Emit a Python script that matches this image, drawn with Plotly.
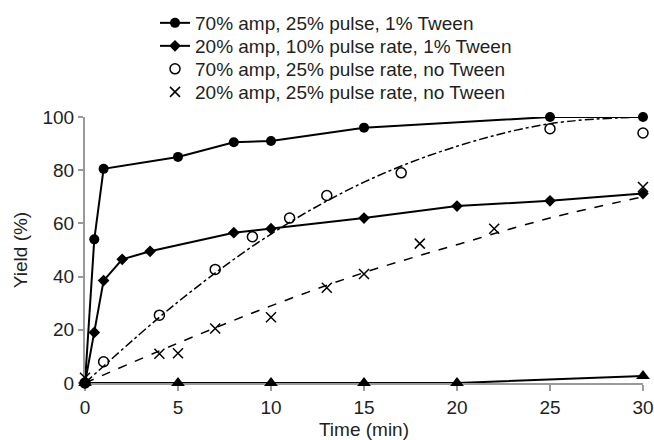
import plotly.graph_objects as go

# Data
t_a = [0, 0.5, 1, 5, 8, 10, 15, 25, 30]
y_a = [0, 54, 80.5, 85, 90.5, 91, 96, 100, 100]

t_b = [0, 0.5, 1, 2, 3.5, 8, 10, 15, 20, 25, 30]
y_b = [0, 19, 38.5, 46.5, 49.5, 56.5, 58, 62, 66.5, 68.5, 71.2]

t_c = [0, 1, 4, 7, 9, 11, 13, 17, 25, 30]
y_c = [0, 8, 25.5, 42.7, 55, 62, 70.5, 79, 95.6, 94]

t_d = [0, 4, 5, 7, 10, 13, 15, 18, 22, 30]
y_d = [2, 11, 11.2, 20.5, 24.7, 35.8, 41, 52.4, 58, 73.7]

t_e = [0, 5, 10, 15, 20, 30]
y_e = [0, 0, 0, 0, 0, 2.6]

# Trend curves
t_trend = [0, 5, 10, 15, 20, 25, 30]
y_trend_c = [0, 30.5, 56, 75.5, 89, 97.5, 100]
y_trend_d = [0, 15, 29, 41.5, 52, 62, 70]

names = [
    "70% amp, 25% pulse, 1% Tween",
    "20% amp, 10% pulse rate, 1% Tween",
    "70% amp, 25% pulse rate, no Tween",
    "20% amp, 25% pulse rate, no Tween",
]

x_ticks = [0, 5, 10, 15, 20, 25, 30]
y_ticks = [0, 20, 40, 60, 80, 100]

FONT = "Liberation Sans, Arial, sans-serif"
TXT = "#231f20"
AX = "#9a9a9a"

fig = go.Figure()

fig.add_trace(go.Scatter(x=t_trend, y=y_trend_c, mode="lines", line=dict(color="black", width=1.5, dash="dashdot", shape="spline"),
                         showlegend=False, hoverinfo="skip", cliponaxis=False))
fig.add_trace(go.Scatter(x=t_trend, y=y_trend_d, mode="lines", line=dict(color="black", width=1.5, dash="dash", shape="spline"),
                         showlegend=False, hoverinfo="skip", cliponaxis=False))
fig.add_trace(go.Scatter(x=t_e, y=y_e, mode="lines+markers", line=dict(color="black", width=2),
                         marker=dict(symbol="triangle-up", size=12, color="black"), showlegend=False, cliponaxis=False))
fig.add_trace(go.Scatter(x=t_c, y=y_c, mode="markers", name=names[2], legend="legend3",
                         marker=dict(symbol="circle-open", size=10, color="black", line=dict(width=1.5)), cliponaxis=False))
fig.add_trace(go.Scatter(x=t_d, y=y_d, mode="markers", name=names[3], legend="legend4",
                         marker=dict(symbol="x-thin", size=10, color="black", line=dict(width=1.5, color="black")), cliponaxis=False))
fig.add_trace(go.Scatter(x=t_b, y=y_b, mode="lines+markers", name=names[1], legend="legend2",
                         line=dict(color="black", width=2), marker=dict(symbol="diamond", size=9, color="black"), cliponaxis=False))
fig.add_trace(go.Scatter(x=t_a, y=y_a, mode="lines+markers", name=names[0], legend="legend",
                         line=dict(color="black", width=2), marker=dict(symbol="circle", size=10, color="black"), cliponaxis=False))

L, R, T, B = 85, 11, 117, 57
W, H = 654, 440
ph = H - T - B
pw = W - L - R

def py(p):
    return (H - B - p) / ph

leg_x = (155 - L) / pw
rows = [23, 46, 69, 92]
leg_common = dict(xanchor="left", yanchor="middle", bgcolor="rgba(0,0,0,0)", borderwidth=0,
                  font=dict(family=FONT, size=19, color=TXT))
layout_legends = {}
for i, key in enumerate(["legend", "legend2", "legend3", "legend4"]):
    layout_legends[key] = dict(x=leg_x, y=py(rows[i]), **leg_common)

fig.update_layout(
    width=W, height=H,
    margin=dict(l=L, r=R, t=T, b=B, autoexpand=False),
    plot_bgcolor="white", paper_bgcolor="white",
    font=dict(family=FONT, size=19, color=TXT),
    **layout_legends,
)

fig.update_xaxes(range=[0, 30], tickvals=x_ticks, ticktext=[str(v) for v in x_ticks],
                 showgrid=False, zeroline=False, showline=True, linecolor=AX, linewidth=2,
                 ticks="outside", ticklen=6, tickcolor=AX, tickwidth=1.5, layer="below traces",
                 tickfont=dict(family=FONT, size=19, color=TXT),
                 title=dict(text="Time (min)", font=dict(family=FONT, size=19, color=TXT), standoff=8))
fig.update_yaxes(range=[0, 100], tickvals=y_ticks, ticktext=[str(v) for v in y_ticks],
                 showgrid=False, zeroline=False, showline=True, linecolor=AX, linewidth=2,
                 ticks="outside", ticklen=5, tickcolor=AX, tickwidth=1.5, layer="below traces",
                 tickfont=dict(family=FONT, size=19, color=TXT),
                 title=dict(text="Yield (%)", font=dict(family=FONT, size=19, color=TXT), standoff=10))

fig.write_html("out.html", config={"displayModeBar": False},
               post_script="document.body.style.margin='0';document.body.style.padding='0';document.documentElement.style.overflow='hidden';")
